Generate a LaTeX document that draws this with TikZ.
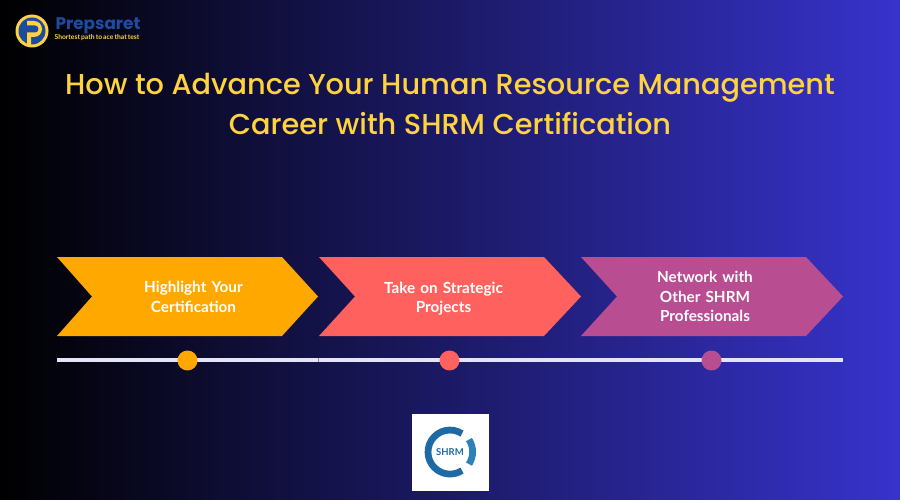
\documentclass[tikz,border=0pt]{standalone}
\usepackage{fontspec}
\setmainfont[WordSpace=0.65]{Lato}
\newfontfamily\titlefont{Poppins Medium}
\newfontfamily\brandfont{Poppins}
\usetikzlibrary{positioning}
\definecolor{cOrange}{HTML}{FFA800}
\definecolor{cCoral}{HTML}{FF625E}
\definecolor{cPlum}{HTML}{B84E91}
\definecolor{cYellow}{HTML}{FFD23F}
\definecolor{cBlue}{HTML}{1D4C9E}
\definecolor{cRail}{HTML}{E3E4F5}
\definecolor{cEnd}{HTML}{3733CC}
\definecolor{cShrm}{HTML}{1F6AA5}
\definecolor{cShrmLight}{HTML}{2B82B8}
\tikzset{
	steptext/.style={text=white,align=center,font=\fontsize{8.7}{11}\selectfont\bfseries,text width=2.6cm},
	titletext/.style={text=cYellow,align=center,font=\titlefont\fontsize{16.37}{23}\selectfont},
	dot/.style={circle,minimum size=0.4cm,inner sep=0pt}
}
\begin{document}
\begin{tikzpicture}[x=0.02cm,y=-0.02cm]
	\useasboundingbox (0,0) rectangle (900,500);
	\shade[left color=black,right color=cEnd] (0,0) rectangle (900,500);
	% logo
	\fill[cYellow] (32,31) circle (16.5);
	\fill[cBlue] (32,31) circle (13.5);
	\fill[cYellow] (27,45) -- (27,21) -- (34,21) arc (-90:90:8) -- (31,37) -- (31,45) -- cycle;
	\fill[cBlue] (24,25.5) -- (35,25.5) arc (-90:90:3.5) -- (24,32.5) -- cycle;
	\node (brand) at (98,26) [text=cBlue,font=\brandfont\fontsize{9.6}{12}\selectfont\bfseries] {Prepsaret};
	\node (tagline) at (97,38) [text=cYellow,font=\fontsize{3.85}{4}\selectfont\bfseries,inner sep=0pt] {Shortest path to ace that test};
	% title
	\node (title) at (450,104) [titletext] {How to Advance Your Human Resource Management\\Career with SHRM Certification};
	% chevrons
	\fill[cOrange] (57,257) -- (282,257) -- (318,296.5) -- (282,336) -- (57,336) -- (92,296.5) -- cycle;
	\fill[cCoral] (319,257) -- (544,257) -- (581,296.5) -- (544,336) -- (319,336) -- (355,296.5) -- cycle;
	\fill[cPlum] (581,257) -- (806,257) -- (843,296.5) -- (806,336) -- (581,336) -- (617,296.5) -- cycle;
	\node (first) at (193.5,297) [steptext] {Highlight Your\\Certification};
	\node (second) at (443.5,298.5) [steptext] {Take on Strategic\\Projects};
	\node (third) at (705,296.5) [steptext] {Network with\\Other SHRM\\Professionals};
	% timeline
	\coordinate (railstart) at (57,360);
	\coordinate (railend) at (843,360);
	\draw[cRail,line width=0.07cm] (railstart) -- (railend);
	\draw[cRail!60!black,line width=0.2pt] (318,358) -- (318,362);
	\node (dotone) at (187.5,360.5) [dot,fill=cOrange] {};
	\node (dottwo) at (449.5,360.5) [dot,fill=cCoral] {};
	\node (dotthree) at (711.5,360.5) [dot,fill=cPlum] {};
	% badge
	\fill[white] (412,414) rectangle (489,491);
	\draw[cShrm,line width=0.135cm] (462,433.6) arc (-57:-303:22);
	\draw[cShrmLight,line width=0.135cm] (469,439.6) arc (-33:33:22.5);
	\node (shrm) at (450,452) [text=cShrm,font=\fontsize{5.4}{6}\selectfont\bfseries,inner sep=0pt] {SHRM};
\end{tikzpicture}
\end{document}
